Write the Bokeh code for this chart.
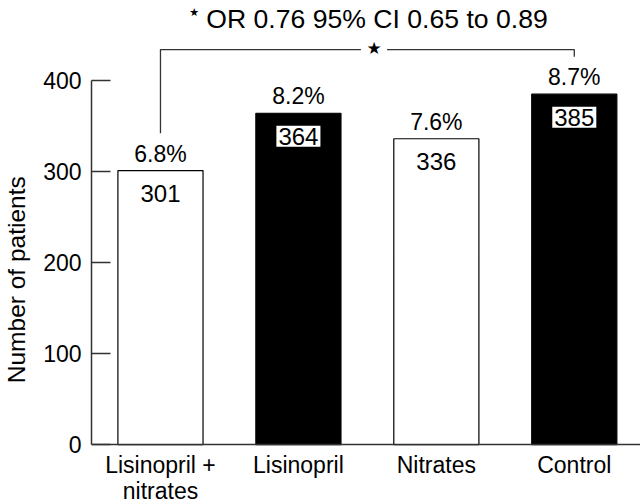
from bokeh.plotting import figure
from bokeh.models import Range1d, FixedTicker, ColumnDataSource
from bokeh.core.properties import value
from bokeh.embed import file_html
from bokeh.resources import INLINE

# ---- data ----
categories = ["Lisinopril +\nnitrates", "Lisinopril", "Nitrates", "Control"]
patients = [301, 364, 336, 385]
percents = ["6.8%", "8.2%", "7.6%", "8.7%"]
bar_fill = ["white", "black", "white", "black"]
y_ticks = [0, 100, 200, 300, 400]
title_text = "OR 0.76 95% CI 0.65 to 0.89"
y_label = "Number of patients"
# comparison bracket: from group 0 to group 3
bracket_from, bracket_to = 0, 3
bracket_top = 434
bracket_left_low = 342
bracket_right_low = 426

FONT = "Liberation Sans"

xs = [i + 0.5 for i in range(len(categories))]
src = ColumnDataSource(dict(x=xs, top=patients, fill=bar_fill, pct=percents,
                            num=[str(v) for v in patients]))

p = figure(width=640, height=504, output_backend="svg", toolbar_location=None,
           x_range=Range1d(0, 3.98), y_range=Range1d(-65.9, 487.9),
           min_border_left=91, min_border_right=0, min_border_top=0,
           min_border_bottom=0)
p.outline_line_color = None
p.xgrid.visible = False
p.ygrid.visible = False
p.background_fill_color = "white"
p.border_fill_color = "white"

p.vbar(x="x", top="top", width=0.617, bottom=0, source=src,
       fill_color="fill", line_color="black", line_width=1.2)

# percent labels above bars
p.text(x="x", y="top", text="pct", source=src, y_offset=-17,
       text_align="center", text_baseline="middle",
       text_font=value(FONT), text_font_size="23px", text_color="black")
# counts inside bars, white box
p.text(x="x", y="top", text="num", source=src, y_offset=23,
       text_align="center", text_baseline="middle",
       text_font=value(FONT), text_font_size="24px", text_color="black",
       background_fill_color="white", padding=2)

# bracket
x0 = xs[bracket_from]
x1 = xs[bracket_to]
mid = (x0 + x1) / 2 + 0.048
p.line(x=[x0, x0, mid - 0.095], y=[bracket_left_low, bracket_top, bracket_top],
       line_color="#333333", line_width=1.3)
p.line(x=[mid + 0.095, x1, x1], y=[bracket_top, bracket_top, bracket_right_low],
       line_color="#333333", line_width=1.3)
p.text(x=[mid], y=[bracket_top + 2], text=["★"], text_align="center",
       text_baseline="middle", text_font=value("DejaVu Sans"),
       text_font_size="17px", text_color="black")

# title
p.text(x=[2.07], y=[468], text=[title_text], text_align="center",
       text_baseline="middle", text_font=value(FONT),
       text_font_size="26.6px", text_color="black")
p.text(x=[0.745], y=[474.6], text=["★"], text_align="center",
       text_baseline="middle", text_font=value("DejaVu Sans"),
       text_font_size="11px", text_color="black")

# x axis sits on y = 0
ax = p.xaxis[0]
ax.fixed_location = 0
ax.ticker = FixedTicker(ticks=xs)
ax.major_label_overrides = {x: c for x, c in zip(xs, categories)}
ax.major_tick_line_color = None
ax.major_tick_out = 0
ax.major_tick_in = 0
ax.minor_tick_line_color = None
ax.minor_tick_out = 0
ax.axis_line_color = "#333333"
ax.axis_line_width = 1.5
ax.major_label_text_font = FONT
ax.major_label_text_font_size = "23px"
ax.major_label_text_line_height = 1.02
ax.major_label_text_color = "black"
ax.major_label_standoff = 7

ay = p.yaxis[0]
ay.ticker = FixedTicker(ticks=y_ticks)
ay.bounds = (0, 400)
ay.major_tick_in = 19
ay.major_tick_out = 0
ay.minor_tick_line_color = None
ay.minor_tick_out = 0
ay.axis_line_color = "#333333"
ay.axis_line_width = 1.5
ay.major_tick_line_color = "#333333"
ay.major_tick_line_width = 1.5
ay.major_label_text_font = FONT
ay.major_label_text_font_size = "23px"
ay.major_label_text_color = "black"
ay.major_label_standoff = 10
ay.axis_label = y_label + "\u00a0" * 8
ay.axis_label_text_font = FONT
ay.axis_label_text_font_size = "24.5px"
ay.axis_label_text_font_style = "normal"
ay.axis_label_text_color = "black"
ay.axis_label_standoff = 10

open("out.html", "w").write(file_html(p, INLINE))
